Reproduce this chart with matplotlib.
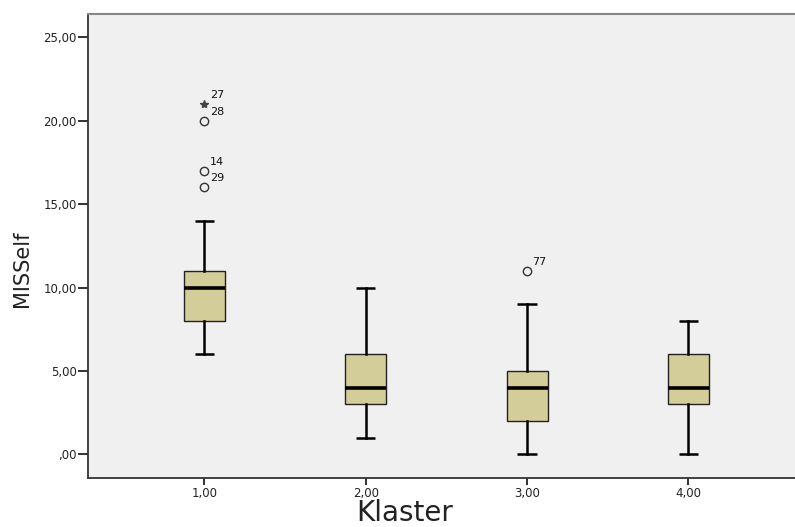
import matplotlib
matplotlib.use("Agg")
import matplotlib.pyplot as plt

# DATA
klaster = [1, 2, 3, 4]
klaster_labels = ["1,00", "2,00", "3,00", "4,00"]
whisker_low = [6, 1, 0, 0]
q1 = [8, 3, 2, 3]
median = [10, 4, 4, 4]
q3 = [11, 6, 5, 6]
whisker_high = [14, 10, 9, 8]

# outliers (circles) and extremes (stars) with case numbers
outlier_x = [1, 1, 1, 3]
outlier_y = [16, 17, 20, 11]
outlier_ids = ["29", "14", "28", "77"]
extreme_x = [1]
extreme_y = [21]
extreme_ids = ["27"]

y_ticks = [0, 5, 10, 15, 20, 25]
y_tick_labels = [",00", "5,00", "10,00", "15,00", "20,00", "25,00"]

plt.rcParams["font.family"] = ["DejaVu Sans"]

fig = plt.figure(figsize=(7.95, 5.27), dpi=100)
ax = fig.add_axes([0.1103, 0.0939, 0.9023, 0.879])
ax.set_facecolor("#f0f0f0")

stats = []
for i in range(len(klaster)):
    stats.append({
        "whislo": whisker_low[i], "q1": q1[i], "med": median[i],
        "q3": q3[i], "whishi": whisker_high[i], "fliers": [],
    })

ax.bxp(
    stats,
    positions=klaster,
    widths=0.254,
    patch_artist=True,
    showfliers=False,
    boxprops=dict(facecolor="#d3cd9a", edgecolor="#222222", linewidth=1.0),
    medianprops=dict(color="black", linewidth=2.6),
    whiskerprops=dict(color="black", linewidth=1.8),
    capprops=dict(color="black", linewidth=1.8, solid_capstyle="butt"),
    capwidths=0.12,
)

ax.plot(outlier_x, outlier_y, linestyle="none", marker="o", markersize=6,
        markerfacecolor="none", markeredgecolor="#333333", markeredgewidth=1.0)
ax.plot(extreme_x, extreme_y, linestyle="none", marker="*", markersize=6,
        color="#444444")

for x, y, t in zip(outlier_x + extreme_x, outlier_y + extreme_y, outlier_ids + extreme_ids):
    ax.annotate(t, (x, y), xytext=(4, 6.5), textcoords="offset points",
                fontsize=8, color="#111111", ha="left", va="center")

ax.set_xlim(0.277, 4.723)
ax.set_ylim(-1.38, 26.38)
ax.set_xticks(klaster)
ax.set_xticklabels(klaster_labels, fontsize=8.5, color="#222222")
ax.set_yticks(y_ticks)
ax.set_yticklabels(y_tick_labels, fontsize=8.5, color="#222222")
ax.tick_params(axis="y", direction="out", length=7, width=1.3, color="#222222", pad=1)
ax.tick_params(axis="x", direction="out", length=5, width=1.3, color="#222222", pad=2)

for side in ["left", "bottom"]:
    ax.spines[side].set_color("#333333")
    ax.spines[side].set_linewidth(1.3)
for side in ["top", "right"]:
    ax.spines[side].set_color("#888888")
    ax.spines[side].set_linewidth(1.5)

fig.text(0.509, 0.012, "Klaster", fontsize=20, color="#222222",
         ha="center", va="baseline")
ax.set_ylabel("MISSelf", fontsize=15, color="#222222")
ax.yaxis.set_label_coords(-0.077, 0.45)

fig.savefig("out.png", dpi=100)
